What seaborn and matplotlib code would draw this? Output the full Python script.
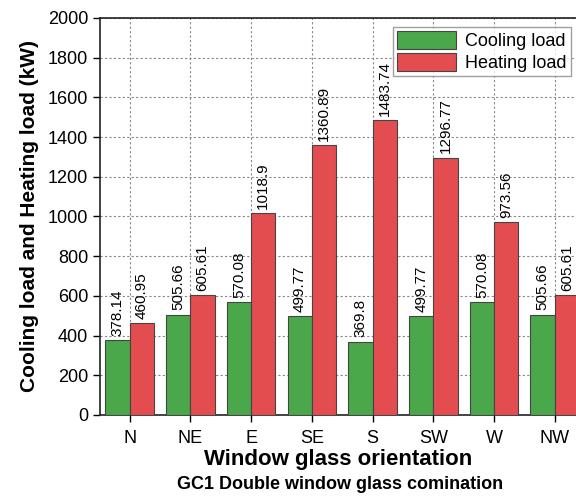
import matplotlib
matplotlib.use("Agg")
import matplotlib.pyplot as plt
import seaborn as sns
import pandas as pd

# values
orientations = ["N", "NE", "E", "SE", "S", "SW", "W", "NW"]
cooling_load = [378.14, 505.66, 570.08, 499.77, 369.8, 499.77, 570.08, 505.66]
heating_load = [460.95, 605.61, 1018.9, 1360.89, 1483.74, 1296.77, 973.56, 605.61]
cooling_labels = ["378.14", "505.66", "570.08", "499.77", "369.8", "499.77", "570.08", "505.66"]
heating_labels = ["460.95", "605.61", "1018.9", "1360.89", "1483.74", "1296.77", "973.56", "605.61"]
series_names = ["Cooling load", "Heating load"]
y_ticks = [0, 200, 400, 600, 800, 1000, 1200, 1400, 1600, 1800, 2000]

df = pd.DataFrame({
    "orientation": orientations * 2,
    "load": cooling_load + heating_load,
    "series": [series_names[0]] * len(orientations) + [series_names[1]] * len(orientations),
})

sns.set_style("ticks")
plt.rcParams["font.family"] = ["Liberation Sans", "DejaVu Sans"]
plt.rcParams["text.color"] = "black"
plt.rcParams["axes.labelcolor"] = "black"
plt.rcParams["xtick.color"] = "black"
plt.rcParams["ytick.color"] = "black"

fig = plt.figure(figsize=(5.76, 4.97), dpi=100)
ax = fig.add_axes([0.1736, 0.165, 0.8264, 0.799])

sns.barplot(data=df, x="orientation", y="load", hue="series",
            palette=["#4aa84a", "#e34d50"], width=0.8, gap=0,
            edgecolor="#444444", linewidth=0.8, saturation=1,
            order=orientations, hue_order=series_names, ax=ax, zorder=3)

for cont, labs in zip(ax.containers, [cooling_labels, heating_labels]):
    ax.bar_label(cont, labels=labs, rotation=90, padding=3, fontsize=11, color="black")

ax.set_ylim(0, 2000)
ax.set_yticks(y_ticks)
ax.set_xlim(-0.49, 7.35)
ax.grid(True, linestyle=(0, (2, 2)), color="#888888", linewidth=0.8, zorder=0)
ax.set_axisbelow(True)
ax.spines["right"].set_visible(False)
for s in ["left", "bottom", "top"]:
    ax.spines[s].set_linewidth(1.2)
    ax.spines[s].set_color("#222222")
ax.tick_params(axis="both", labelsize=13, direction="out", length=5, width=1.0)
ax.tick_params(axis="x", pad=6)

ax.set_ylabel("Cooling load and Heating load (kW)", fontsize=15, fontweight="bold", labelpad=6)
ax.set_xlabel("Window glass orientation", fontsize=16, fontweight="bold", labelpad=1)
fig.text(0.59, 0.008, "GC1 Double window glass comination", ha="center", va="bottom",
         fontsize=13, fontweight="bold")

leg = ax.legend(loc="upper right", fontsize=13, frameon=True, fancybox=False,
                borderaxespad=0.3, handlelength=3.3, handleheight=1.2,
                labelspacing=0.15, borderpad=0.2, handletextpad=0.5,
                bbox_to_anchor=(1.0, 0.99))
leg.get_frame().set_edgecolor("#888888")
leg.get_frame().set_linewidth(1.0)
leg.set_title(None)

fig.savefig("out.png", dpi=100)
